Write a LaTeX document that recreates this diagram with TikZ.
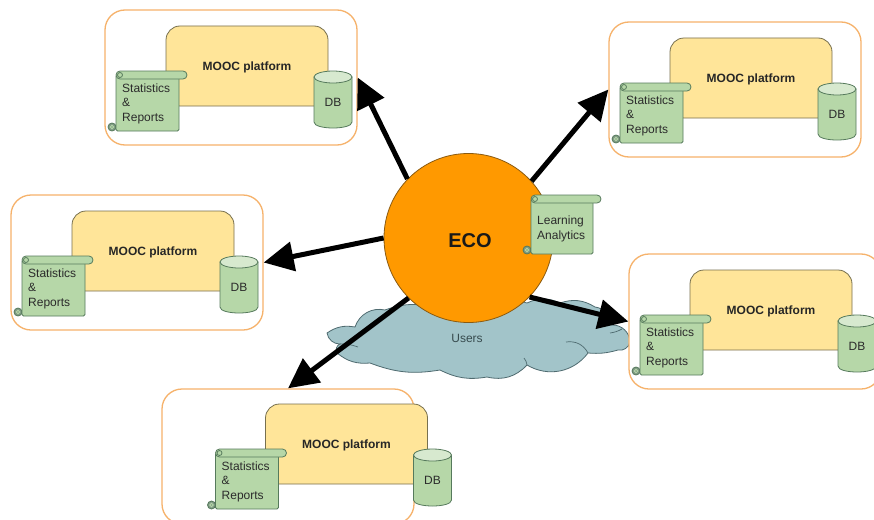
\documentclass[tikz,border=0pt]{standalone}
\usepackage{fontspec}
\setmainfont{Liberation Sans}
\usetikzlibrary{arrows.meta}
\definecolor{boxline}{HTML}{F6B26B}
\definecolor{platfill}{HTML}{FFE599}
\definecolor{platline}{HTML}{77704F}
\definecolor{scrollfill}{HTML}{B6D7A8}
\definecolor{scrollline}{HTML}{567A5C}
\definecolor{cloudfill}{HTML}{A2C4C9}
\definecolor{cloudline}{HTML}{4F6B70}
\definecolor{ecofill}{HTML}{FF9900}
\definecolor{ecoline}{HTML}{8A5A10}
\definecolor{inktext}{HTML}{2B2B2B}
\tikzset{
  modulebox/.style={draw=boxline,line width=1.3pt,fill=white,rounded corners=20pt,minimum width=252pt,minimum height=135pt,inner sep=0pt},
  platbox/.style={draw=platline,line width=.8pt,fill=platfill,rounded corners=14pt,minimum width=162pt,minimum height=80pt,inner sep=0pt},
  plattext/.style={inner sep=0pt,font=\bfseries\fontsize{12}{14}\selectfont,text=black!85},
  scrollshape/.style={draw=scrollline,line width=.8pt,fill=scrollfill},
  scrolltext/.style={font=\fontsize{12}{14.5}\selectfont,text=inktext,align=left,anchor=north west,inner sep=0pt},
  dbshape/.style={draw=scrollline,line width=.8pt,fill=scrollfill},
  dbtext/.style={font=\fontsize{12}{14}\selectfont,text=inktext,inner sep=0pt},
  linkarrow/.style={line width=5pt,black,-{Triangle[length=30pt,width=29pt]}},
  bump/.style={bend left=#1},
}
\newcommand{\scrollat}[4]{%
  \fill[scrollline!75,draw=scrollline,line width=.8pt] (#1-4,#4-4) circle (4);
  \draw[scrollshape,rounded corners=1.5pt] (#1,#2+4) rectangle (#1+#3,#4);
  \draw[scrollshape,rounded corners=4pt] (#1,#2) rectangle (#1+#3+8,#2+8);
  \draw[scrollline,line width=.8pt] (#1+4,#2+4) circle (2.5);
  \draw[scrollfill,line width=.8pt] (#1-4,#4-4) circle (1.8);
}
\newcommand{\module}[5]{%
  \node[modulebox] (#1) at (231+#2,77.5+#3) {};
  \node[platbox] (#1p) at (247+#4,66+#5) {};
  \node[plattext] (#1t) at (247+#4,67.5+#5) {MOOC platform};
  \begin{scope}[shift={(#4,#5)}]
    \scrollat{116}{71}{63}{131}
    \node[scrolltext] (#1s) at (122,83.5) {Statistics\\\&\\Reports};
    \draw[dbshape] (314,77) -- (314,122) .. controls (314,130) and (352,130) .. (352,122) -- (352,77) -- cycle;
    \draw[dbshape,fill=scrollfill!55] (333,77) ellipse (19 and 6);
    \node[dbtext] (#1d) at (333,102.5) {DB};
  \end{scope}
}
\begin{document}
\begin{tikzpicture}[x=1pt,y=-1pt]
\clip (0,0) rectangle (874,519);
\fill[white] (0,0) rectangle (874,519);
% Users cloud
\draw[fill=cloudfill,draw=cloudline,line width=.8pt]
  (327,333) to[bump=22] (355,327)
  to[bump=42] (385,310)
  to[bump=20] (440,310)
  to[bump=20] (527,303)
  to[bump=25] (560,303)
  to[bump=25] (595,307)
  to[bump=38] (612,325)
  to[bump=45] (630,342)
  to[bump=45] (618,350)
  to[bump=10] (588,353)
  to[bump=42] (527,365)
  to[bump=30] (487,377)
  to[bump=18] (440,370)
  to[bump=15] (370,363)
  to[bump=22] (337,353)
  to[bump=50] (340,344)
  to[bump=40] cycle;
\draw[cloudline,line width=.7pt] (340,344) to[bend left=10] (358,347);
\draw[cloudline,line width=.7pt] (610,333) to[bend right=10] (622,329);
\draw[cloudline,line width=.7pt] (566,342) to[bend left=35] (588,353);
\draw[cloudline,line width=.7pt] (527,365) to[bend right=15] (524,358);
\node[font=\fontsize{12}{14}\selectfont,text=cloudline!70!black,inner sep=0pt] (users) at (467,338) {Users};
\module{mtl}{0}{0}{0}{0}
\module{mtr}{504}{12}{504}{12}
\module{ml}{-94}{185}{-94}{185}
\module{mr}{524}{244}{524}{244}
\module{mb}{57}{379}{99.5}{378}
\node[circle,draw=ecoline,line width=.8pt,fill=ecofill,minimum size=169pt,inner sep=0pt] (eco) at (468.5,238) {};
\node[font=\bfseries\fontsize{20}{24}\selectfont,text=black!90,inner sep=0pt] (ecotext) at (470,240.5) {ECO};
\scrollat{531}{195}{62}{254}
\node[scrolltext] (la) at (537,216) {Learning\\Analytics};
\draw[linkarrow] (eco.136) -- (mtl.east);
\draw[linkarrow] (eco.42) -- (mtr.west);
\draw[linkarrow] (eco.180) -- (ml.east);
\draw[linkarrow] (eco.-44) -- (mr.west);
\draw[linkarrow] (eco.225) -- (mb.north);
\end{tikzpicture}
\end{document}
